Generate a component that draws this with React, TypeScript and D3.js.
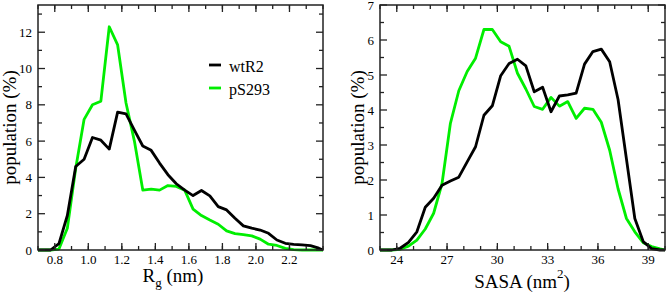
import * as d3 from 'd3';

// Rg distribution (left)
const rgX = [0.7, 0.725, 0.775, 0.825, 0.875, 0.925, 0.975, 1.025, 1.075, 1.125, 1.175, 1.225, 1.275, 1.325, 1.375, 1.425, 1.475, 1.525, 1.575, 1.625, 1.675, 1.725, 1.775, 1.825, 1.875, 1.925, 1.975, 2.025, 2.075, 2.125, 2.175, 2.225, 2.275, 2.325, 2.375, 2.4];
const rgWt = [0, 0, 0, 0.35, 1.9, 4.6, 5.0, 6.2, 6.05, 5.56, 7.6, 7.5, 6.6, 5.73, 5.49, 4.79, 4.15, 3.65, 3.3, 3.0, 3.28, 2.98, 2.39, 2.21, 1.75, 1.33, 1.2, 1.1, 0.92, 0.55, 0.37, 0.31, 0.28, 0.24, 0.1, 0];
const rgPs = [0, 0, 0, 0.05, 1.2, 4.5, 7.2, 8.0, 8.2, 12.3, 11.3, 8.1, 6.0, 3.3, 3.35, 3.3, 3.55, 3.5, 3.3, 2.25, 1.9, 1.65, 1.42, 1.05, 0.9, 0.85, 0.78, 0.6, 0.32, 0.25, 0.09, 0.02, 0, 0, 0, 0];
const rgTicks = [0.8, 1.0, 1.2, 1.4, 1.6, 1.8, 2.0, 2.2];
const rgYTicks = [0, 2, 4, 6, 8, 10, 12];

// SASA distribution (right)
const sasaX = [23, 23.2, 23.7, 24.2, 24.7, 25.2, 25.7, 26.2, 26.7, 27.2, 27.7, 28.2, 28.7, 29.2, 29.7, 30.2, 30.7, 31.2, 31.7, 32.2, 32.7, 33.2, 33.7, 34.2, 34.7, 35.2, 35.7, 36.2, 36.7, 37.2, 37.7, 38.2, 38.7, 39.2, 39.7, 40];
const sasaWt = [0, 0, 0, 0.05, 0.22, 0.52, 1.22, 1.48, 1.85, 1.97, 2.08, 2.52, 2.95, 3.85, 4.12, 4.98, 5.33, 5.45, 5.26, 4.52, 4.65, 3.95, 4.4, 4.43, 4.48, 5.31, 5.67, 5.74, 5.38, 4.3, 2.6, 0.9, 0.24, 0.04, 0, 0];
const sasaPs = [0, 0, 0, 0.02, 0.11, 0.28, 0.6, 1.05, 1.9, 3.62, 4.55, 5.1, 5.48, 6.3, 6.3, 5.95, 5.82, 5.05, 4.6, 4.1, 4.02, 4.36, 4.11, 4.24, 3.76, 4.05, 4.02, 3.65, 2.85, 1.75, 0.9, 0.52, 0.21, 0.1, 0.03, 0];
const sasaTicks = [24, 27, 30, 33, 36, 39];
const sasaYTicks = [0, 1, 2, 3, 4, 5, 6, 7];

const seriesNames = ['wtR2', 'pS293'];
const GREEN = '#00ee00';
const FONT = '"Liberation Serif", "DejaVu Serif", serif';

type PanelProps = {
  x0: number; x1: number;
  xDomain: [number, number]; yDomain: [number, number];
  xs: number[]; wt: number[]; ps: number[];
  xTicks: number[]; xMinor: number[];
  yTicks: number[]; yMinor: number[];
  xFmt: (v: number) => string;
  yTitleX: number;
  children?: any;
};

function Panel(props: PanelProps) {
  const { x0, x1, xDomain, yDomain, xs, wt, ps, xTicks, xMinor, yTicks, yMinor, xFmt, yTitleX } = props;
  const top = 5, bottom = 250;
  const x = d3.scaleLinear().domain(xDomain).range([x0, x1]);
  const y = d3.scaleLinear().domain(yDomain).range([bottom, top]);
  const line = d3.line<number>().x((_, i) => x(xs[i])).y(d => y(d));
  const major = 7, minor = 4;
  return (
    <g>
      <path d={line(ps) || ''} fill="none" stroke={GREEN} strokeWidth={2.8} strokeLinejoin="round" />
      <path d={line(wt) || ''} fill="none" stroke="#000" strokeWidth={2.8} strokeLinejoin="round" />
      <rect x={x0} y={top} width={x1 - x0} height={bottom - top} fill="none" stroke="#222" strokeWidth={1.5} />
      {xMinor.map((v, i) => (
        <g key={'xm' + i} stroke="#222" strokeWidth={1.3}>
          <line x1={x(v)} x2={x(v)} y1={bottom} y2={bottom - minor} />
          <line x1={x(v)} x2={x(v)} y1={top} y2={top + minor} />
        </g>
      ))}
      {xTicks.map((v, i) => (
        <g key={'x' + i}>
          <line x1={x(v)} x2={x(v)} y1={bottom} y2={bottom - major} stroke="#222" strokeWidth={1.3} />
          <line x1={x(v)} x2={x(v)} y1={top} y2={top + major} stroke="#222" strokeWidth={1.3} />
          <text x={x(v)} y={264} textAnchor="middle" fontSize={13}>{xFmt(v)}</text>
        </g>
      ))}
      {yMinor.map((v, i) => (
        <g key={'ym' + i} stroke="#222" strokeWidth={1.3}>
          <line x1={x0} x2={x0 + minor} y1={y(v)} y2={y(v)} />
          <line x1={x1} x2={x1 - minor} y1={y(v)} y2={y(v)} />
        </g>
      ))}
      {yTicks.map((v, i) => (
        <g key={'y' + i}>
          <line x1={x0} x2={x0 + major} y1={y(v)} y2={y(v)} stroke="#222" strokeWidth={1.3} />
          <line x1={x1} x2={x1 - major} y1={y(v)} y2={y(v)} stroke="#222" strokeWidth={1.3} />
          <text x={x0 - 6} y={y(v)} dy="0.35em" textAnchor="end" fontSize={13}>{v}</text>
        </g>
      ))}
      <text transform={`translate(${yTitleX},${(top + bottom) / 2}) rotate(-90)`} textAnchor="middle" fontSize={19}>population (%)</text>
      {props.children}
    </g>
  );
}

export default function App() {
  const rgMinor = d3.range(7, 25).map(d => d / 10);
  const rgYMinor = d3.range(1, 14, 2);
  const sasaMinor = d3.range(23, 41);
  const sasaYMinor = d3.range(0.5, 7, 1);
  return (
    <svg width={666} height={293} style={{ position: 'absolute', left: 0, top: 0, background: '#fff' }} fontFamily={FONT}>
      <Panel x0={38} x1={323} xDomain={[0.7, 2.4]} yDomain={[0, 13.5]} xs={rgX} wt={rgWt} ps={rgPs}
        xTicks={rgTicks} xMinor={rgMinor} yTicks={rgYTicks} yMinor={rgYMinor}
        xFmt={d3.format('.1f')} yTitleX={16}>
        <text x={173} y={282} textAnchor="middle" fontSize={19}>R<tspan dy={5} fontSize={13}>g</tspan><tspan dy={-5}> (nm)</tspan></text>
        <line x1={209} x2={221} y1={65} y2={65} stroke="#000" strokeWidth={2.8} />
        <text x={229} y={71.5} fontSize={16}>{seriesNames[0]}</text>
        <line x1={209} x2={221} y1={88} y2={88} stroke={GREEN} strokeWidth={2.8} />
        <text x={229} y={94.5} fontSize={16}>{seriesNames[1]}</text>
      </Panel>
      <Panel x0={380} x1={665} xDomain={[23, 40]} yDomain={[0, 7]} xs={sasaX} wt={sasaWt} ps={sasaPs}
        xTicks={sasaTicks} xMinor={sasaMinor} yTicks={sasaYTicks} yMinor={sasaYMinor}
        xFmt={d3.format('d')} yTitleX={364}>
        <text x={522} y={288} textAnchor="middle" fontSize={19}>SASA (nm<tspan dy={-10} fontSize={13}>2</tspan><tspan dy={10}>)</tspan></text>
      </Panel>
    </svg>
  );
}
